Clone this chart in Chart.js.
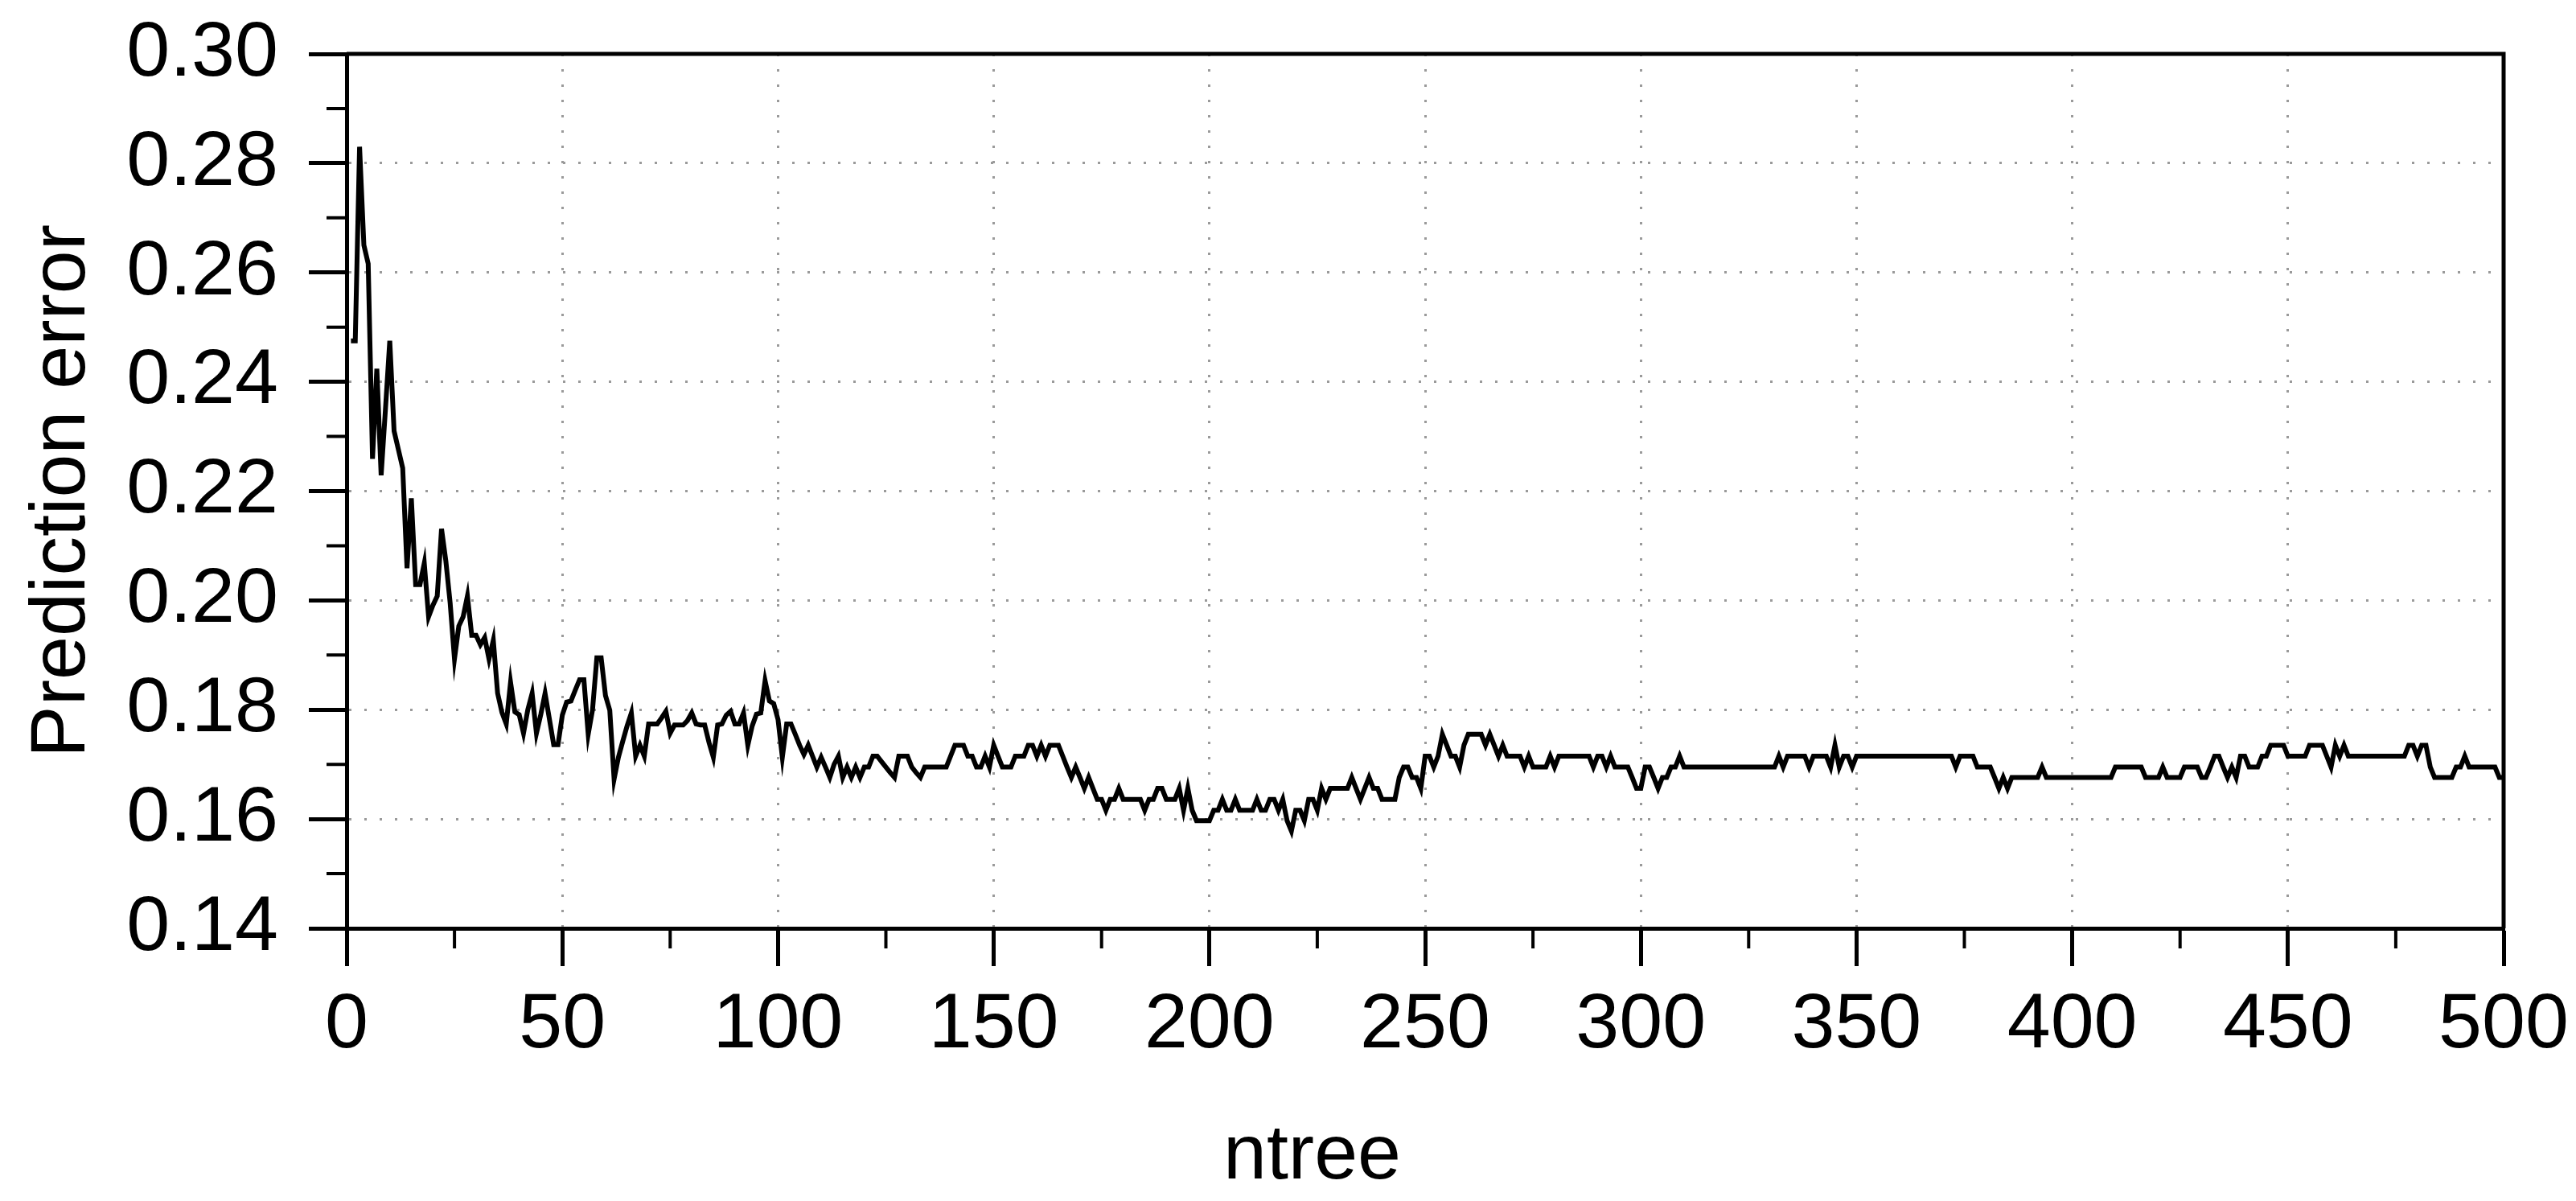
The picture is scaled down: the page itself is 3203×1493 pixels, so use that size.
<!DOCTYPE html>
<html>
<head>
<meta charset="utf-8">
<title>Prediction error vs ntree</title>
<script src="https://cdn.jsdelivr.net/npm/chart.js@4.4.1/dist/chart.umd.min.js"></script>
<style>
    html, body { margin: 0; padding: 0; background: #fff; }
    canvas { display: block; }
</style>
</head>
<body>
<canvas id="errChart" width="3203" height="1493"></canvas>
<script>
// OOB prediction error, one value per forest size (ntree = 1..500)
const predictionError = [
    0.2475, 0.2475, 0.2830, 0.2650, 0.2616, 0.2259, 0.2424, 0.2229, 0.2350, 0.2475,
    0.2310, 0.2276, 0.2242, 0.2059, 0.2187, 0.2029, 0.2029, 0.2068, 0.1970, 0.1991,
    0.2008, 0.2131, 0.2072, 0.1995, 0.1893, 0.1953, 0.1970, 0.2008, 0.1936, 0.1936,
    0.1919, 0.1932, 0.1893, 0.1927, 0.1830, 0.1795, 0.1774, 0.1850, 0.1796, 0.1791,
    0.1757, 0.1800, 0.1830, 0.1757, 0.1791, 0.1830, 0.1783, 0.1736, 0.1736, 0.1790,
    0.1814, 0.1816, 0.1836, 0.1855, 0.1855, 0.1755, 0.1800, 0.1895, 0.1895, 0.1826,
    0.1799, 0.1673, 0.1713, 0.1742, 0.1770, 0.1794, 0.1715, 0.1735, 0.1715, 0.1774,
    0.1774, 0.1774, 0.1785, 0.1797, 0.1757, 0.1772, 0.1772, 0.1772, 0.1780, 0.1794,
    0.1774, 0.1772, 0.1772, 0.1740, 0.1713, 0.1772, 0.1774, 0.1790, 0.1797, 0.1774,
    0.1774, 0.1794, 0.1735, 0.1770, 0.1792, 0.1794, 0.1853, 0.1816, 0.1811, 0.1782,
    0.1713, 0.1774, 0.1774, 0.1755, 0.1735, 0.1718, 0.1735, 0.1715, 0.1695, 0.1713,
    0.1695, 0.1676, 0.1700, 0.1715, 0.1676, 0.1695, 0.1676, 0.1695, 0.1676, 0.1695,
    0.1695, 0.1715, 0.1715, 0.1705, 0.1695, 0.1685, 0.1676, 0.1715, 0.1715, 0.1715,
    0.1695, 0.1685, 0.1676, 0.1695, 0.1695, 0.1695, 0.1695, 0.1695, 0.1695, 0.1715,
    0.1735, 0.1735, 0.1735, 0.1715, 0.1715, 0.1695, 0.1695, 0.1715, 0.1695, 0.1735,
    0.1715, 0.1695, 0.1695, 0.1695, 0.1715, 0.1715, 0.1715, 0.1735, 0.1735, 0.1715,
    0.1735, 0.1715, 0.1735, 0.1735, 0.1735, 0.1715, 0.1695, 0.1676, 0.1695, 0.1676,
    0.1656, 0.1676, 0.1656, 0.1636, 0.1636, 0.1616, 0.1636, 0.1636, 0.1656, 0.1636,
    0.1636, 0.1636, 0.1636, 0.1636, 0.1616, 0.1636, 0.1636, 0.1656, 0.1656, 0.1636,
    0.1636, 0.1636, 0.1656, 0.1616, 0.1656, 0.1616, 0.1597, 0.1597, 0.1597, 0.1597,
    0.1616, 0.1616, 0.1636, 0.1616, 0.1616, 0.1636, 0.1616, 0.1616, 0.1616, 0.1616,
    0.1636, 0.1616, 0.1616, 0.1636, 0.1636, 0.1616, 0.1636, 0.1597, 0.1578, 0.1616,
    0.1616, 0.1597, 0.1636, 0.1636, 0.1616, 0.1656, 0.1636, 0.1656, 0.1656, 0.1656,
    0.1656, 0.1656, 0.1676, 0.1656, 0.1636, 0.1656, 0.1676, 0.1656, 0.1656, 0.1636,
    0.1636, 0.1636, 0.1636, 0.1676, 0.1695, 0.1695, 0.1676, 0.1676, 0.1656, 0.1715,
    0.1715, 0.1695, 0.1715, 0.1755, 0.1735, 0.1715, 0.1715, 0.1695, 0.1735, 0.1755,
    0.1755, 0.1755, 0.1755, 0.1735, 0.1755, 0.1735, 0.1715, 0.1735, 0.1715, 0.1715,
    0.1715, 0.1715, 0.1695, 0.1715, 0.1695, 0.1695, 0.1695, 0.1695, 0.1715, 0.1695,
    0.1715, 0.1715, 0.1715, 0.1715, 0.1715, 0.1715, 0.1715, 0.1715, 0.1695, 0.1715,
    0.1715, 0.1695, 0.1715, 0.1695, 0.1695, 0.1695, 0.1695, 0.1676, 0.1656, 0.1656,
    0.1695, 0.1695, 0.1676, 0.1656, 0.1676, 0.1676, 0.1695, 0.1695, 0.1715, 0.1695,
    0.1695, 0.1695, 0.1695, 0.1695, 0.1695, 0.1695, 0.1695, 0.1695, 0.1695, 0.1695,
    0.1695, 0.1695, 0.1695, 0.1695, 0.1695, 0.1695, 0.1695, 0.1695, 0.1695, 0.1695,
    0.1695, 0.1715, 0.1695, 0.1715, 0.1715, 0.1715, 0.1715, 0.1715, 0.1695, 0.1715,
    0.1715, 0.1715, 0.1715, 0.1695, 0.1735, 0.1695, 0.1715, 0.1715, 0.1695, 0.1715,
    0.1715, 0.1715, 0.1715, 0.1715, 0.1715, 0.1715, 0.1715, 0.1715, 0.1715, 0.1715,
    0.1715, 0.1715, 0.1715, 0.1715, 0.1715, 0.1715, 0.1715, 0.1715, 0.1715, 0.1715,
    0.1715, 0.1715, 0.1695, 0.1715, 0.1715, 0.1715, 0.1715, 0.1695, 0.1695, 0.1695,
    0.1695, 0.1676, 0.1656, 0.1676, 0.1656, 0.1676, 0.1676, 0.1676, 0.1676, 0.1676,
    0.1676, 0.1676, 0.1695, 0.1676, 0.1676, 0.1676, 0.1676, 0.1676, 0.1676, 0.1676,
    0.1676, 0.1676, 0.1676, 0.1676, 0.1676, 0.1676, 0.1676, 0.1676, 0.1676, 0.1695,
    0.1695, 0.1695, 0.1695, 0.1695, 0.1695, 0.1695, 0.1676, 0.1676, 0.1676, 0.1676,
    0.1695, 0.1676, 0.1676, 0.1676, 0.1676, 0.1695, 0.1695, 0.1695, 0.1695, 0.1676,
    0.1676, 0.1695, 0.1715, 0.1715, 0.1695, 0.1676, 0.1695, 0.1676, 0.1715, 0.1715,
    0.1695, 0.1695, 0.1695, 0.1715, 0.1715, 0.1735, 0.1735, 0.1735, 0.1735, 0.1715,
    0.1715, 0.1715, 0.1715, 0.1715, 0.1735, 0.1735, 0.1735, 0.1735, 0.1715, 0.1695,
    0.1735, 0.1715, 0.1735, 0.1715, 0.1715, 0.1715, 0.1715, 0.1715, 0.1715, 0.1715,
    0.1715, 0.1715, 0.1715, 0.1715, 0.1715, 0.1715, 0.1715, 0.1735, 0.1735, 0.1715,
    0.1735, 0.1735, 0.1695, 0.1676, 0.1676, 0.1676, 0.1676, 0.1676, 0.1695, 0.1695,
    0.1715, 0.1695, 0.1695, 0.1695, 0.1695, 0.1695, 0.1695, 0.1695, 0.1676, 0.1676
];
const ntree = predictionError.map((_, i) => i + 1);

// axis ticks (major ones get labels and grid lines, minor ones only a short mark)
const xMajorTicks = [0, 50, 100, 150, 200, 250, 300, 350, 400, 450, 500];
const xMinorTicks = [25, 75, 125, 175, 225, 275, 325, 375, 425, 475];
const yMajorTicks = [0.14, 0.16, 0.18, 0.20, 0.22, 0.24, 0.26, 0.28, 0.30];
const yMinorTicks = [0.15, 0.17, 0.19, 0.21, 0.23, 0.25, 0.27, 0.29];

const FONT = '"Liberation Sans", Arial, sans-serif';

// box frame (top + right), the short minor ticks and the x title
const framePlugin = {
    id: 'frame',
    afterDraw(chart) {
        const { ctx, chartArea: a, scales } = chart;
        ctx.save();
        ctx.strokeStyle = '#000';
        ctx.lineCap = 'butt';

        ctx.lineWidth = 4;
        ctx.beginPath();
        xMinorTicks.forEach(v => {
            const px = scales.x.getPixelForValue(v);
            ctx.moveTo(px, a.bottom);
            ctx.lineTo(px, a.bottom + 25);
        });
        yMinorTicks.forEach(v => {
            const py = scales.y.getPixelForValue(v);
            ctx.moveTo(a.left, py);
            ctx.lineTo(a.left - 25, py);
        });
        ctx.stroke();

        ctx.lineWidth = 5;
        ctx.beginPath();
        ctx.moveTo(a.left, a.top);
        ctx.lineTo(a.right, a.top);
        ctx.lineTo(a.right, a.bottom);
        ctx.stroke();

        // x axis title sits a bit left of the plot centre, like the original
        ctx.fillStyle = '#000';
        ctx.font = '97px ' + FONT;
        ctx.textAlign = 'center';
        ctx.textBaseline = 'alphabetic';
        ctx.fillText('ntree', chart.width / 2 + 30, chart.height - 28);
        ctx.restore();
    }
};

new Chart(document.getElementById('errChart'), {
    type: 'line',
    data: {
        datasets: [{
            label: 'Prediction error',
            data: ntree.map((n, i) => ({ x: n, y: predictionError[i] })),
            borderColor: '#000',
            borderWidth: 6,
            pointRadius: 0,
            tension: 0,
            fill: false
        }]
    },
    options: {
        responsive: false,
        animation: false,
        layout: { padding: { top: 67, right: 90, left: 0, bottom: 0 } },
        plugins: {
            legend: { display: false },
            tooltip: { enabled: false }
        },
        scales: {
            x: {
                type: 'linear',
                min: 0,
                max: 500,
                afterBuildTicks: s => { s.ticks = xMajorTicks.map(v => ({ value: v })); },
                // fixed axis box; drop the label overhang padding so the plot edges stay put
                afterFit: s => { s.height = 339; s.paddingLeft = 0; s.paddingRight = 0; },
                grid: {
                    color: '#9a9a9a',
                    lineWidth: 3,
                    tickLength: 47,
                    tickWidth: 5,
                    tickColor: '#000'
                },
                border: { display: true, color: '#000', width: 5, dash: [3, 16] },
                ticks: {
                    color: '#000',
                    padding: 16,
                    maxRotation: 0,
                    font: { family: FONT, size: 97 }
                },
                title: { display: false }
            },
            y: {
                type: 'linear',
                min: 0.14,
                max: 0.30,
                afterBuildTicks: s => { s.ticks = yMajorTicks.map(v => ({ value: v })); },
                afterFit: s => { s.width = 431; s.paddingTop = 0; s.paddingBottom = 0; },
                grid: {
                    color: '#9a9a9a',
                    lineWidth: 3,
                    tickLength: 47,
                    tickWidth: 5,
                    tickColor: '#000'
                },
                border: { display: true, color: '#000', width: 5, dash: [3, 16] },
                ticks: {
                    color: '#000',
                    padding: 38,
                    font: { family: FONT, size: 97 },
                    callback: v => v.toFixed(2)
                },
                title: {
                    display: true,
                    text: 'Prediction error',
                    color: '#000',
                    font: { family: FONT, size: 97 },
                    padding: { top: 20, bottom: 0 }
                }
            }
        }
    },
    plugins: [framePlugin]
});
</script>
</body>
</html>
